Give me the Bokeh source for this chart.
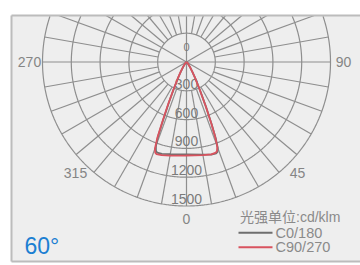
import numpy as np
from bokeh.plotting import figure
from bokeh.models import Range1d
from bokeh.core.properties import value
from bokeh.embed import file_html
from bokeh.resources import INLINE

# ---------------- data ----------------
gamma = [0, 10, 15, 18, 19, 20, 21, 22, 23.5, 25.5, 28, 30.5, 35, 40, 50, 60, 90]
c0 = [962, 980, 998, 1000, 990, 950, 850, 700, 510, 330, 205, 128, 62, 26, 8, 0, 0]
c180 = [962, 975, 990, 992, 978, 932, 822, 645, 455, 292, 182, 116, 55, 22, 7, 0, 0]
c90 = [974, 986, 996, 992, 978, 938, 832, 690, 500, 320, 200, 125, 60, 25, 8, 0, 0]
c270 = [976, 990, 1005, 1010, 1000, 962, 852, 676, 480, 309, 190, 123, 60, 25, 8, 0, 0]
ring_values = [0, 300, 600, 900, 1200, 1500]
ring_labels = ["0", "300", "600", "900", "1200", "1500"]
angle_ticks = [0, 45, 90, 270, 315]
angle_labels = ["0", "45", "90", "270", "315"]
legend_title = "光强单位:cd/klm"
series_names = ["C0/180", "C90/270"]
series_colors = ["#6e6e6e", "#d9535f"]
beam_label = "60°"

# ---------------- layout helpers (page px -> data) ----------------
W, H = 360, 265
CX, CY = 186.0, 61.5
S = 28.8 / 300.0


def X(px):
    return (px - CX) / S


def Y(py):
    return (CY - py) / S


p = figure(width=W, height=H, x_range=Range1d(X(0), X(W)),
           y_range=Range1d(Y(H), Y(0)), output_backend="svg",
           toolbar_location=None, min_border=0,
           x_axis_location=None, y_axis_location=None)
p.grid.visible = False
p.outline_line_color = None
p.background_fill_color = "white"
p.border_fill_color = "white"

FT = 15.0  # frame top (page px)
ytop = Y(FT)

# frame background
p.quad(left=X(11), right=X(380), top=ytop, bottom=Y(261), fill_color="#eeeeee", line_color=None)

grid_col = "#8e8e8e"
# rings, clipped at the frame top
t = np.linspace(0, 2 * np.pi, 721)
rings = [v for v in ring_values if v > 0]
rxs, rys = [], []
for r in rings:
    xx = r * np.cos(t)
    yy = r * np.sin(t)
    xx = np.where(yy > ytop, np.nan, xx)
    yy = np.where(yy > ytop, np.nan, yy)
    if np.isnan(yy).any():
        k = int(np.where(np.isnan(yy))[0][0])
        xx = np.roll(xx, -k)
        yy = np.roll(yy, -k)
    rxs.append(list(xx))
    rys.append(list(yy))
p.multi_line(xs=rxs, ys=rys, line_color=grid_col, line_width=1.2)

# radial spokes every 10 degrees from the first ring outward, clipped at frame top
rmin, rmax = rings[0], rings[-1]
sx, sy = [], []
for f in np.radians(np.arange(0, 360, 10)):
    s = np.sin(f)
    r_end = rmax if s <= 1e-9 else min(rmax, ytop / s)
    sx.append([rmin * np.cos(f), r_end * np.cos(f)])
    sy.append([rmin * np.sin(f), r_end * np.sin(f)])
p.multi_line(xs=sx, ys=sy, line_color=grid_col, line_width=1.2)
# spokes through the pole inside the first ring
inner = np.radians([0, 30, 90, 150, 180, 210, 270, 330])
p.multi_line(xs=[[0, rmin * np.cos(f)] for f in inner], ys=[[0, rmin * np.sin(f)] for f in inner],
             line_color=grid_col, line_width=1.2)

# frame border
p.multi_line(xs=[[X(11), X(11)], [X(11), X(380)], [X(11), X(380)]],
             ys=[[ytop, Y(261)], [ytop, ytop], [Y(261), Y(261)]],
             line_color="#bcbcbc", line_width=2)

# ring labels
off = np.where(np.array(ring_values) == 0, 15.0, 7.0) / S
p.text(x=[0] * len(ring_values), y=list(-np.array(ring_values, float) + off), text=ring_labels,
       text_align="center", text_baseline="middle", text_color="#7a7a7a",
       text_font=value("Liberation Sans"),
       text_font_size=["11px"] + ["14px"] * (len(ring_values) - 1))

# angle labels
R_lab = 157.0 / S
ang = np.radians(angle_ticks)
p.text(x=list(R_lab * np.sin(ang)), y=list(-R_lab * np.cos(ang)), text=angle_labels,
       text_align="center", text_baseline="middle", text_color="#858585",
       text_font=value("Liberation Sans"), text_font_size="14px")


# curves
def curve(right, left):
    g = np.radians(gamma)
    r1 = np.array(right, float)
    r2 = np.array(left, float)
    xs = np.concatenate([(r1 * np.sin(g))[::-1], -(r2 * np.sin(g))[1:]])
    ys = np.concatenate([(-r1 * np.cos(g))[::-1], (-r2 * np.cos(g))[1:]])
    return xs, ys


x1, y1 = curve(c0, c180)
x2, y2 = curve(c90, c270)
p.line(x1, y1, line_color=series_colors[0], line_width=1.8)
p.line(x2, y2, line_color=series_colors[1], line_width=1.8)

# legend
p.text(x=[X(239.5)], y=[Y(216.5)], text=[legend_title], text_align="left", text_baseline="middle",
       text_color="#8a8a8a", text_font=value("Liberation Sans, Noto Sans CJK SC"), text_font_size="14px")
ly = [232.3, 246.7]
for i in range(2):
    p.line([X(238), X(272)], [Y(ly[i]), Y(ly[i])], line_color=series_colors[i], line_width=2)
p.text(x=[X(275)] * 2, y=[Y(v) for v in ly], text=series_names, text_align="left",
       text_baseline="middle", text_color="#8a8a8a", text_font=value("Liberation Sans"),
       text_font_size="14.5px")

# beam angle
p.text(x=[X(24)], y=[Y(245.5)], text=[beam_label], text_align="left", text_baseline="middle",
       text_color="#1c7fd2", text_font=value("Liberation Sans"), text_font_size="23px")

open("out.html", "w").write(file_html(p, INLINE))
